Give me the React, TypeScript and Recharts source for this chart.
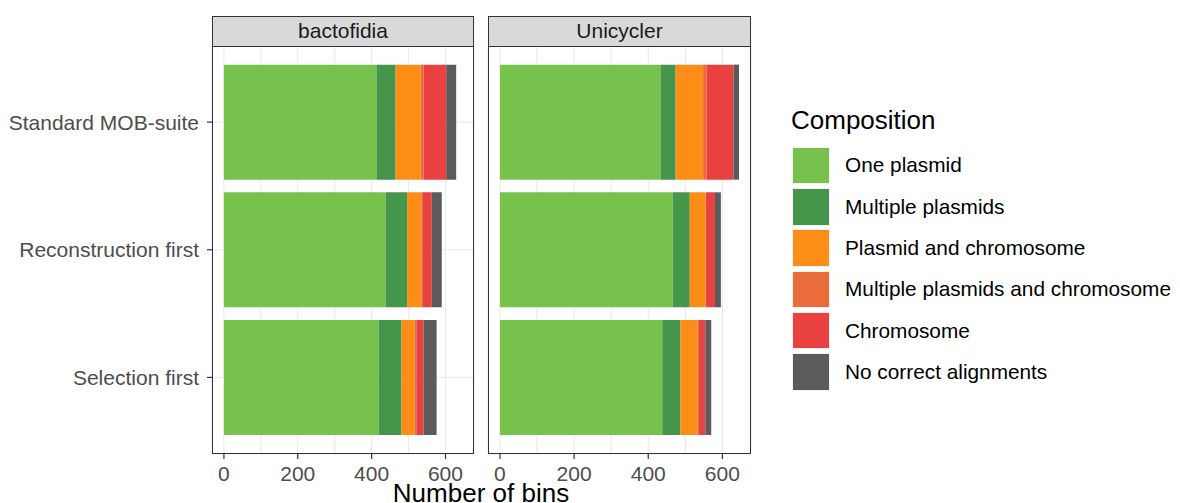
import React from "react";
import { Bar, BarChart, CartesianGrid, XAxis, YAxis } from "recharts";

const methods = ["Standard MOB-suite", "Reconstruction first", "Selection first"];
const compositions = [
  "One plasmid",
  "Multiple plasmids",
  "Plasmid and chromosome",
  "Multiple plasmids and chromosome",
  "Chromosome",
  "No correct alignments",
];
const colors = ["#76C24C", "#45954B", "#FC8D17", "#EB6C3B", "#E84140", "#5B5B5C"];

// bins per composition, one value per method (same order as methods)
const bactofidiaOne = [413, 438, 419];
const bactofidiaMulti = [52, 58, 62];
const bactofidiaPlasChrom = [68, 40, 36];
const bactofidiaMultiChrom = [8, 1, 4];
const bactofidiaChrom = [61, 26, 20];
const bactofidiaNone = [27, 27, 35];

const unicyclerOne = [433, 466, 438];
const unicyclerMulti = [41, 46, 49];
const unicyclerPlasChrom = [74, 43, 46];
const unicyclerMultiChrom = [9, 1, 4];
const unicyclerChrom = [73, 24, 17];
const unicyclerNone = [15, 16, 16];

const xTicks = [0, 100, 200, 300, 400, 500, 600];
const xLabels = [0, 200, 400, 600];

const FONT = "'Liberation Sans', Arial, sans-serif";

function buildRows(series: number[][]) {
  return methods.map((m, i) => {
    const row: Record<string, string | number> = { method: m };
    compositions.forEach((c, k) => {
      row[c] = series[k][i];
    });
    return row;
  });
}

const panels = [
  {
    name: "bactofidia",
    rows: buildRows([bactofidiaOne, bactofidiaMulti, bactofidiaPlasChrom, bactofidiaMultiChrom, bactofidiaChrom, bactofidiaNone]),
  },
  {
    name: "Unicycler",
    rows: buildRows([unicyclerOne, unicyclerMulti, unicyclerPlasChrom, unicyclerMultiChrom, unicyclerChrom, unicyclerNone]),
  },
];

const maxTotal = Math.max(
  ...panels.flatMap((p) => p.rows.map((r) => compositions.reduce((s, c) => s + (r[c] as number), 0)))
);
const xDomain = [-0.05 * maxTotal, 1.05 * maxTotal];

function XTick({ x, y, payload }: any) {
  if (!xLabels.includes(payload.value)) return null;
  return (
    <g>
      <line x1={x} x2={x} y1={y - 12} y2={y - 7} stroke="#333333" strokeWidth={1.2} />
      <text x={x} y={y} dy="0.71em" textAnchor="middle" fontSize={21} fill="#4D4D4D">
        {payload.value}
      </text>
    </g>
  );
}

const TOP = 45.5;
const PLOT_H = 408.5;

function Panel({ name, rows, left, width, showY }: any) {
  const yW = showY ? 212 : 0;
  const mLeft = showY ? 0 : 8;
  const plotLeft = left + mLeft + yW;
  const plotW = width - mLeft - yW - 7;
  return (
    <>
      <div style={{ position: "absolute", left, top: 0 }}>
        <BarChart
          width={width}
          height={503}
          data={rows}
          layout="vertical"
          margin={{ top: TOP, right: 7, bottom: 503 - TOP - PLOT_H - 30, left: mLeft }}
          barCategoryGap="5%"
        >
          <CartesianGrid stroke="#EBEBEB" strokeWidth={1.2} />
          <XAxis
            type="number"
            domain={xDomain}
            ticks={xTicks}
            interval={0}
            height={30}
            axisLine={false}
            tickLine={false}
            tickSize={5}
            tickMargin={7}
            tick={<XTick />}
            allowDataOverflow
          />
          <YAxis
            type="category"
            dataKey="method"
            width={yW}
            axisLine={false}
            tick={showY ? { fontSize: 21, fill: "#4D4D4D" } : false}
            tickLine={showY ? { stroke: "#333333", strokeWidth: 1.2 } : false}
            tickSize={5}
            tickMargin={8}
            padding={{ top: 12.75, bottom: 12.75 }}
          />
          {compositions.map((c, k) => (
            <Bar key={c} dataKey={c} stackId="s" fill={colors[k]} isAnimationActive={false} />
          ))}
        </BarChart>
      </div>
      <div
        style={{
          position: "absolute",
          left: plotLeft,
          top: TOP,
          width: plotW,
          height: PLOT_H,
          border: "1.3px solid #333333",
          boxSizing: "border-box",
          pointerEvents: "none",
        }}
      />
      <div
        style={{
          position: "absolute",
          left: plotLeft,
          top: 16,
          width: plotW,
          height: TOP - 16 + 1,
          background: "#D9D9D9",
          border: "1.3px solid #333333",
          boxSizing: "border-box",
          display: "flex",
          alignItems: "center",
          justifyContent: "center",
          fontSize: 21,
          color: "#1A1A1A",
        }}
      >
        {name}
      </div>
    </>
  );
}

export default function App() {
  return (
    <div
      style={{
        position: "absolute",
        left: 0,
        top: 0,
        width: 1180,
        height: 503,
        background: "#FFFFFF",
        fontFamily: FONT,
        overflow: "hidden",
      }}
    >
      <Panel name={panels[0].name} rows={panels[0].rows} left={0} width={481} showY />
      <Panel name={panels[1].name} rows={panels[1].rows} left={480} width={278} showY={false} />
      <div
        style={{
          position: "absolute",
          left: 281,
          width: 400,
          top: 478,
          textAlign: "center",
          fontSize: 26,
          color: "#000000",
          lineHeight: "30px",
        }}
      >
        Number of bins
      </div>
      <div style={{ position: "absolute", left: 791, top: 104, fontSize: 26, color: "#000", lineHeight: "32px" }}>
        Composition
      </div>
      {compositions.map((c, k) => (
        <div
          key={c}
          style={{ position: "absolute", left: 792, top: 146.7 + k * 41.3, height: 37.5, display: "flex", alignItems: "center" }}
        >
          <div style={{ width: 38, height: 37.5, background: colors[k], boxSizing: "border-box", border: "1px solid #F2F2F2" }} />
          <span style={{ marginLeft: 15, fontSize: 20.8, color: "#000" }}>{c}</span>
        </div>
      ))}
    </div>
  );
}
